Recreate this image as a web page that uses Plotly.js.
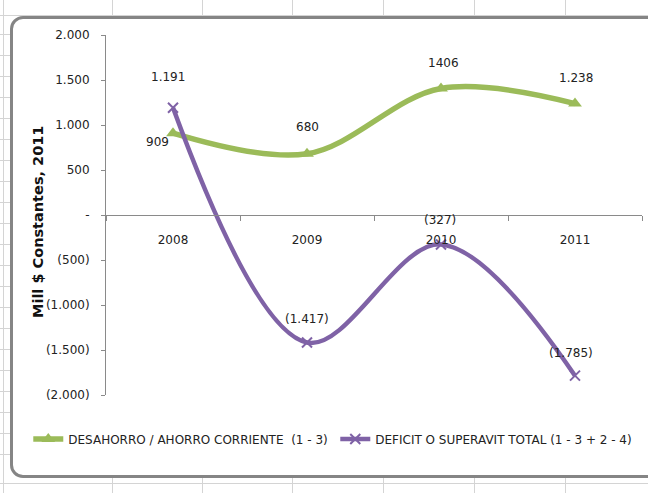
<!DOCTYPE html>
<html>
<head>
<meta charset="utf-8">
<script src="https://cdn.plot.ly/plotly-3.0.1.min.js"></script>
<style>
  html, body { margin: 0; padding: 0; background: #ffffff; }
  #wrap { position: relative; width: 648px; height: 493px; overflow: hidden; background: #ffffff; }
  .vl { position: absolute; top: 0; width: 1px; height: 493px; background: #d4d4d4; }
  .hl { position: absolute; left: 0; height: 1px; width: 648px; background: #d4d4d4; }
  #frame { position: absolute; left: 10px; top: 16px; width: 680px; height: 456px;
           border: 3px solid #858585; border-radius: 13px; background: #ffffff; }
  #chart { position: absolute; left: 0; top: 0; width: 648px; height: 493px; }
</style>
</head>
<body>
<div id="wrap">
  <div id="frame"></div>
  <div id="chart"></div>
</div>
<script>
// ---- data ----
const years = ['2008', '2009', '2010', '2011'];
const ahorro = [909, 680, 1406, 1238];           // DESAHORRO / AHORRO CORRIENTE (1 - 3)
const deficit = [1191, -1417, -327, -1785];      // DEFICIT O SUPERAVIT TOTAL (1 - 3 + 2 - 4)
const ahorroLabels = ['909', '680', '1406', '1.238'];
const deficitLabels = ['1.191', '(1.417)', '(327)', '(1.785)'];
const seriesNames = ['DESAHORRO / AHORRO CORRIENTE  (1 - 3)', 'DEFICIT O SUPERAVIT TOTAL (1 - 3 + 2 - 4)'];
const yTickVals = [-2000, -1500, -1000, -500, 0, 500, 1000, 1500, 2000];
const yTickText = ['(2.000)', '(1.500)', '(1.000)', '(500)', '-', '500', '1.000', '1.500', '2.000'];
const yTitle = 'Mill $ Constantes, 2011';

// ---- spreadsheet background grid ----
const wrap = document.getElementById('wrap');
[3, 112, 202, 292, 383, 474, 565].forEach(x => {
  const d = document.createElement('div'); d.className = 'vl'; d.style.left = x + 'px'; wrap.insertBefore(d, wrap.firstChild);
});
const rows = [15, 483];
for (let y = 34; y < 470; y += 21) rows.push(y);
rows.forEach(y => {
  const d = document.createElement('div'); d.className = 'hl'; d.style.top = y + 'px'; wrap.insertBefore(d, wrap.firstChild);
});

const GREEN = '#9BBB59';
const PURPLE = '#7F62A6';
const FONT = 'DejaVu Sans, sans-serif';

const traces = [
  {
    x: years, y: ahorro, name: seriesNames[0], type: 'scatter', mode: 'lines+markers',
    line: { color: GREEN, width: 5.5, shape: 'spline', smoothing: 1 },
    marker: { symbol: 'triangle-up', size: 12, color: GREEN }
  },
  {
    x: years, y: deficit, name: seriesNames[1], type: 'scatter', mode: 'lines+markers',
    line: { color: PURPLE, width: 4.5, shape: 'spline', smoothing: 1 },
    marker: { symbol: 'x-thin', size: 10, color: PURPLE, line: { color: PURPLE, width: 2 } }
  }
];

const greenShift = [[-16, -9], [0, 27], [2, 25], [1, 26]];
const purpleShift = [[-5, 31], [0, 24], [-1, 24], [-4, 23]];
const annotations = [];
years.forEach((yr, i) => {
  annotations.push({ xref: 'x', yref: 'y', x: i, y: ahorro[i], text: ahorroLabels[i], showarrow: false,
    xshift: greenShift[i][0], yshift: greenShift[i][1], font: { family: FONT, size: 12, color: '#222' } });
  annotations.push({ xref: 'x', yref: 'y', x: i, y: deficit[i], text: deficitLabels[i], showarrow: false,
    xshift: purpleShift[i][0], yshift: purpleShift[i][1], font: { family: FONT, size: 12, color: '#222' } });
});
// y-axis title placed as rotated text
annotations.push({ xref: 'paper', yref: 'paper', x: (38 - 106) / 536, y: (395 - 222) / 360,
  xanchor: 'center', yanchor: 'middle', textangle: -90, showarrow: false, text: yTitle,
  font: { family: FONT, size: 14.5, color: '#111', weight: 'bold' } });

const layout = {
  width: 648, height: 493,
  margin: { l: 106, r: 6, t: 35, b: 98 },
  paper_bgcolor: 'rgba(0,0,0,0)', plot_bgcolor: 'rgba(0,0,0,0)',
  font: { family: FONT, size: 12, color: '#222' },
  showlegend: true,
  legend: {
    orientation: 'h', x: -0.145, xanchor: 'left', y: -0.122, yanchor: 'middle',
    entrywidth: 262, entrywidthmode: 'pixels',
    font: { family: FONT, size: 12, color: '#222' }, bgcolor: 'rgba(0,0,0,0)'
  },
  xaxis: {
    type: 'category', range: [-0.5, 3.5], anchor: 'free', position: 0.5,
    showline: true, linecolor: '#8a8a8a', linewidth: 1,
    ticks: 'outside', tickson: 'boundaries', ticklen: 5, tickcolor: '#8a8a8a',
    showgrid: false, zeroline: false, ticklabelstandoff: 14,
    tickfont: { family: FONT, size: 12, color: '#222' }
  },
  yaxis: {
    range: [-2000, 2000], tickvals: yTickVals, ticktext: yTickText,
    showline: true, linecolor: '#8a8a8a', linewidth: 1,
    ticks: 'outside', ticklen: 4, tickcolor: '#8a8a8a',
    showgrid: false, zeroline: false, ticklabelstandoff: 9,
    tickfont: { family: FONT, size: 12, color: '#222' }
  },
  annotations: annotations
};

Plotly.newPlot('chart', traces, layout, { displayModeBar: false, staticPlot: true });
</script>
</body>
</html>
